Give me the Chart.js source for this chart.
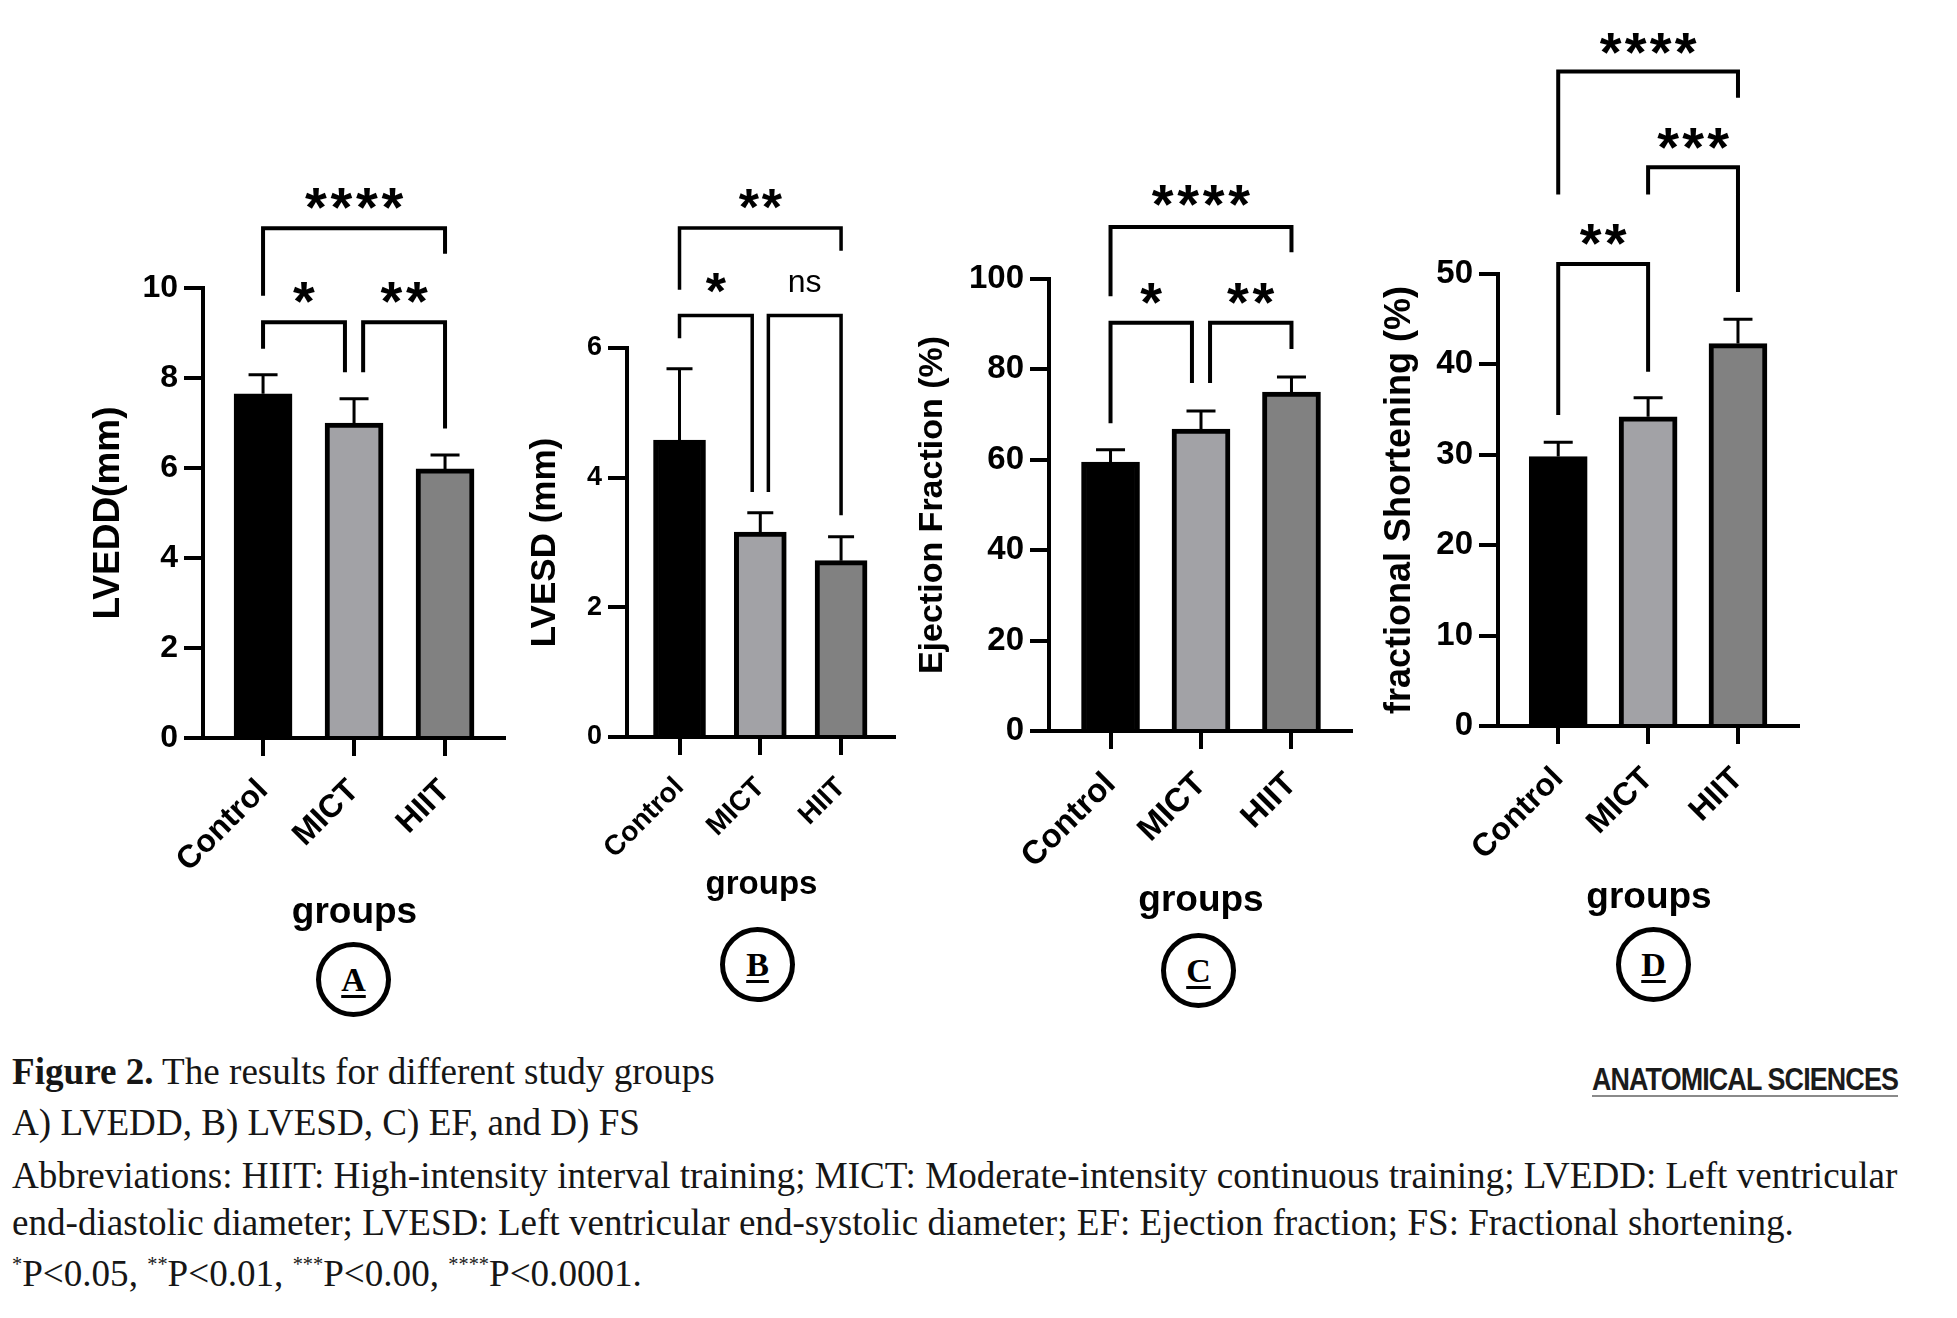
<!DOCTYPE html>
<html>
<head>
<meta charset="utf-8">
<title>Figure 2 - study groups</title>
<script src="https://cdn.jsdelivr.net/npm/chart.js"></script>
<style>
  body { margin: 0; background: #fff; width: 1957px; height: 1318px; position: relative; overflow: hidden; }
  canvas { position: absolute; top: 0; }
  .tag { position: absolute; width: 65px; height: 65px; border: 5px solid #000; border-radius: 50%;
         display: flex; align-items: center; justify-content: center;
         font: bold 34px "Liberation Serif", serif; text-decoration: underline; text-decoration-thickness: 3px;
         text-underline-offset: 4px; }
  .cap { position: absolute; left: 12px; white-space: nowrap; font-family: "Liberation Serif", serif;
         font-size: 30px; line-height: 1; color: #161616; transform: translateY(-50%); }
  .cap sup { font-size: 0.55em; vertical-align: 0.75em; }
  #logo { position: absolute; left: 1592px; top: 1062px; white-space: nowrap; font: bold 31px "Liberation Sans Narrow", "Liberation Sans", sans-serif;
          letter-spacing: -1px; color: #1b1b1b; transform-origin: 0 0; }
  #logoLine { position: absolute; left: 1592px; top: 1095px; width: 306px; height: 2px; background: #8a8a8a; }
</style>
</head>
<body>
<canvas id="panelA" width="419" height="935" style="left:87px"></canvas>
<canvas id="panelB" width="372" height="905" style="left:524px"></canvas>
<canvas id="panelC" width="441" height="923" style="left:912px"></canvas>
<canvas id="panelD" width="422" height="920" style="left:1378px"></canvas>

<div class="tag" style="left:316px;top:942px">A</div>
<div class="tag" style="left:720px;top:927px">B</div>
<div class="tag" style="left:1161px;top:933px">C</div>
<div class="tag" style="left:1616px;top:927px">D</div>

<div class="cap" id="cap1" style="top:1072px"><b>Figure 2.</b> The results for different study groups</div>
<div class="cap" id="cap2" style="top:1123px">A) LVEDD, B) LVESD, C) EF, and D) FS</div>
<div class="cap" id="cap3" style="top:1176px">Abbreviations: HIIT: High-intensity interval training; MICT: Moderate-intensity continuous training; LVEDD: Left ventricular</div>
<div class="cap" id="cap4" style="top:1223px">end-diastolic diameter; LVESD: Left ventricular end-systolic diameter; EF: Ejection fraction; FS: Fractional shortening.</div>
<div class="cap" id="cap5" style="top:1273px"><sup>*</sup>P&lt;0.05, <sup>**</sup>P&lt;0.01, <sup>***</sup>P&lt;0.00, <sup>****</sup>P&lt;0.0001.</div>
<div id="logo">ANATOMICAL SCIENCES</div>
<div id="logoLine"></div>

<script>
// group names and bar fills
const groups = ['Control', 'MICT', 'HIIT'];
const barColors = ['#000000', '#a2a2a6', '#818181'];

// means and SD (upper error bar)
const lvedd = [7.65, 7.0, 5.98];
const lveddErr = [0.42, 0.54, 0.31];
const lvesd = [4.58, 3.16, 2.72];
const lvesdErr = [1.1, 0.3, 0.37];
const ef = [59.5, 66.8, 75.0];
const efErr = [2.7, 4.0, 3.3];
const fs = [29.8, 34.2, 42.3];
const fsErr = [1.6, 2.1, 2.7];

// significance brackets: from, to, bracket level, left leg end, right leg end, label, label centre
const lveddSig = [
  [0, 1, 9.24, 8.65, 8.13, '*', 9.9],
  [1, 2, 9.24, 8.13, 6.88, '**', 9.9],
  [0, 2, 11.33, 9.83, 10.76, '****', 11.98]
];
const lvesdSig = [
  [0, 1, 6.5, 6.15, 3.78, '*', 7.0],
  [1, 2, 6.5, 3.78, 3.42, 'ns', 7.0],
  [0, 2, 7.85, 6.9, 7.5, '**', 8.3]
];
const efSig = [
  [0, 1, 90.3, 68.1, 77.0, '*', 96.9],
  [1, 2, 90.3, 77.0, 84.5, '**', 96.9],
  [0, 2, 111.5, 96.2, 105.9, '****', 118.4]
];
const fsSig = [
  [0, 1, 51.1, 34.4, 39.2, '**', 54.4],
  [1, 2, 61.8, 58.8, 48.0, '***', 65.0],
  [0, 2, 72.4, 58.8, 69.5, '****', 75.5]
];

Chart.defaults.font.family = '"Liberation Sans", Arial, sans-serif';
Chart.defaults.color = '#000';

// upward error bars with a cap
const errPlugin = {
  id: 'errBars',
  afterDatasetsDraw(chart, args, opts) {
    const ctx = chart.ctx, ys = chart.scales.y;
    const meta = chart.getDatasetMeta(0);
    const vals = chart.data.datasets[0].data;
    ctx.save();
    ctx.strokeStyle = '#000';
    ctx.lineWidth = opts.lineWidth;
    meta.data.forEach((bar, i) => {
      const v = vals[i].y;
      const yb = ys.getPixelForValue(v);
      const yt = ys.getPixelForValue(v + opts.err[i]);
      const half = bar.width * 0.25;
      ctx.beginPath();
      ctx.moveTo(bar.x, yb);
      ctx.lineTo(bar.x, yt);
      ctx.moveTo(bar.x - half, yt);
      ctx.lineTo(bar.x + half, yt);
      ctx.stroke();
    });
    ctx.restore();
  }
};

// brackets + star labels
const sigPlugin = {
  id: 'sigBars',
  afterDraw(chart, args, opts) {
    const ctx = chart.ctx, xs = chart.scales.x, ys = chart.scales.y;
    ctx.save();
    ctx.strokeStyle = '#000';
    ctx.fillStyle = '#000';
    ctx.lineWidth = opts.lineWidth;
    opts.items.forEach(([from, to, level, legL, legR, label, labelAt]) => {
      let a = from, b = to;
      if (b - a === 1) {
        if (a === 1) a += opts.gap;
        if (b === 1) b -= opts.gap;
      }
      const x1 = xs.getPixelForValue(a), x2 = xs.getPixelForValue(b);
      const yl = ys.getPixelForValue(level);
      ctx.beginPath();
      ctx.moveTo(x1, ys.getPixelForValue(legL));
      ctx.lineTo(x1, yl);
      ctx.lineTo(x2, yl);
      ctx.lineTo(x2, ys.getPixelForValue(legR));
      ctx.stroke();

      const cx = (x1 + x2) / 2, cy = ys.getPixelForValue(labelAt);
      ctx.textAlign = 'center';
      ctx.textBaseline = 'alphabetic';
      if (label === 'ns') {
        ctx.font = opts.nsSize + 'px "Liberation Sans", Arial, sans-serif';
        const m = ctx.measureText('ns');
        ctx.fillText('ns', cx, cy + (m.actualBoundingBoxAscent - m.actualBoundingBoxDescent) / 2);
      } else {
        ctx.font = 'bold ' + opts.starSize + 'px "Liberation Sans", Arial, sans-serif';
        const m = ctx.measureText('*');
        const base = cy + (m.actualBoundingBoxAscent - m.actualBoundingBoxDescent) / 2;
        const n = label.length;
        for (let i = 0; i < n; i++) {
          ctx.fillText('*', cx + (i - (n - 1) / 2) * opts.pitch, base);
        }
      }
    });
    ctx.restore();
  }
};

function makePanel(id, p) {
  return new Chart(document.getElementById(id), {
    type: 'bar',
    data: {
      datasets: [{
        data: p.values.map((v, i) => ({ x: i, y: v })),
        backgroundColor: barColors,
        borderColor: '#000',
        borderWidth: 5,
        barThickness: p.barW
      }]
    },
    plugins: [errPlugin, sigPlugin],
    options: {
      responsive: false,
      animation: false,
      layout: { padding: { top: p.top, left: 0, right: 0, bottom: 0 } },
      plugins: {
        legend: { display: false },
        tooltip: { enabled: false },
        errBars: { err: p.errs, lineWidth: 3 },
        sigBars: { items: p.sig, gap: p.gap, lineWidth: p.lw, starSize: p.star, pitch: p.pitch, nsSize: 32 }
      },
      scales: {
        x: {
          type: 'linear',
          min: p.xMin,
          max: p.xMax,
          offset: false,
          afterBuildTicks: s => { s.ticks = groups.map((g, i) => ({ value: i })); },
          afterFit: s => { s.height = p.xH; },
          grid: { offset: false, drawOnChartArea: false, color: '#000', lineWidth: 4, tickLength: 18 },
          border: { color: '#000', width: 4 },
          ticks: {
            autoSkip: false, minRotation: 45, maxRotation: 45, padding: 16,
            font: { size: p.xFont, weight: 'bold' },
            callback: v => groups[v]
          },
          title: { display: true, text: 'groups', padding: 0, font: { size: p.gFont, weight: 'bold' } }
        },
        y: {
          min: 0,
          max: p.yMax,
          afterFit: s => { s.width = p.yW; },
          ticks: { stepSize: p.yStep, padding: 6, font: { size: p.yFont, weight: 'bold' } },
          grid: { drawOnChartArea: false, color: '#000', lineWidth: 4, tickLength: 19 },
          border: { color: '#000', width: 4 },
          title: { display: true, text: p.yTitle, padding: 0, font: { size: p.tFont, weight: 'bold' } }
        }
      }
    }
  });
}

makePanel('panelA', {
  values: lvedd, errs: lveddErr, sig: lveddSig, yTitle: 'LVEDD(mm)',
  yMax: 10, yStep: 2, xMin: -0.66, xMax: 2.67, barW: 58,
  top: 288, yW: 116, xH: 197,
  yFont: 32, xFont: 32, gFont: 37, tFont: 37,
  gap: 0.1, lw: 4, star: 56, pitch: 25.5
});
makePanel('panelB', {
  values: lvesd, errs: lvesdErr, sig: lvesdSig, yTitle: 'LVESD (mm)',
  yMax: 6, yStep: 2, xMin: -0.65, xMax: 2.68, barW: 52,
  top: 348, yW: 103, xH: 168,
  yFont: 27, xFont: 28, gFont: 33, tFont: 35,
  gap: 0.1, lw: 3.5, star: 52, pitch: 23
});
makePanel('panelC', {
  values: ef, errs: efErr, sig: efSig, yTitle: 'Ejection Fraction (%)',
  yMax: 100, yStep: 20, xMin: -0.68, xMax: 2.68, barW: 58,
  top: 279, yW: 137, xH: 192,
  yFont: 33, xFont: 33, gFont: 37, tFont: 34,
  gap: 0.1, lw: 4, star: 56, pitch: 25.5
});
makePanel('panelD', {
  values: fs, errs: fsErr, sig: fsSig, yTitle: 'fractional Shortening (%)',
  yMax: 50, yStep: 10, xMin: -0.67, xMax: 2.69, barW: 58,
  top: 274, yW: 120, xH: 194,
  yFont: 33, xFont: 32, gFont: 37, tFont: 36,
  gap: 0, lw: 4, star: 56, pitch: 25
});

// fit the caption to the width of the printed caption
const longLine = document.getElementById('cap3');
const capSize = 30 * 1886 / longLine.getBoundingClientRect().width;
document.querySelectorAll('.cap').forEach(el => { el.style.fontSize = capSize + 'px'; });
const logo = document.getElementById('logo');
logo.style.transform = 'scaleX(' + (306 / logo.getBoundingClientRect().width) + ')';
</script>
</body>
</html>
